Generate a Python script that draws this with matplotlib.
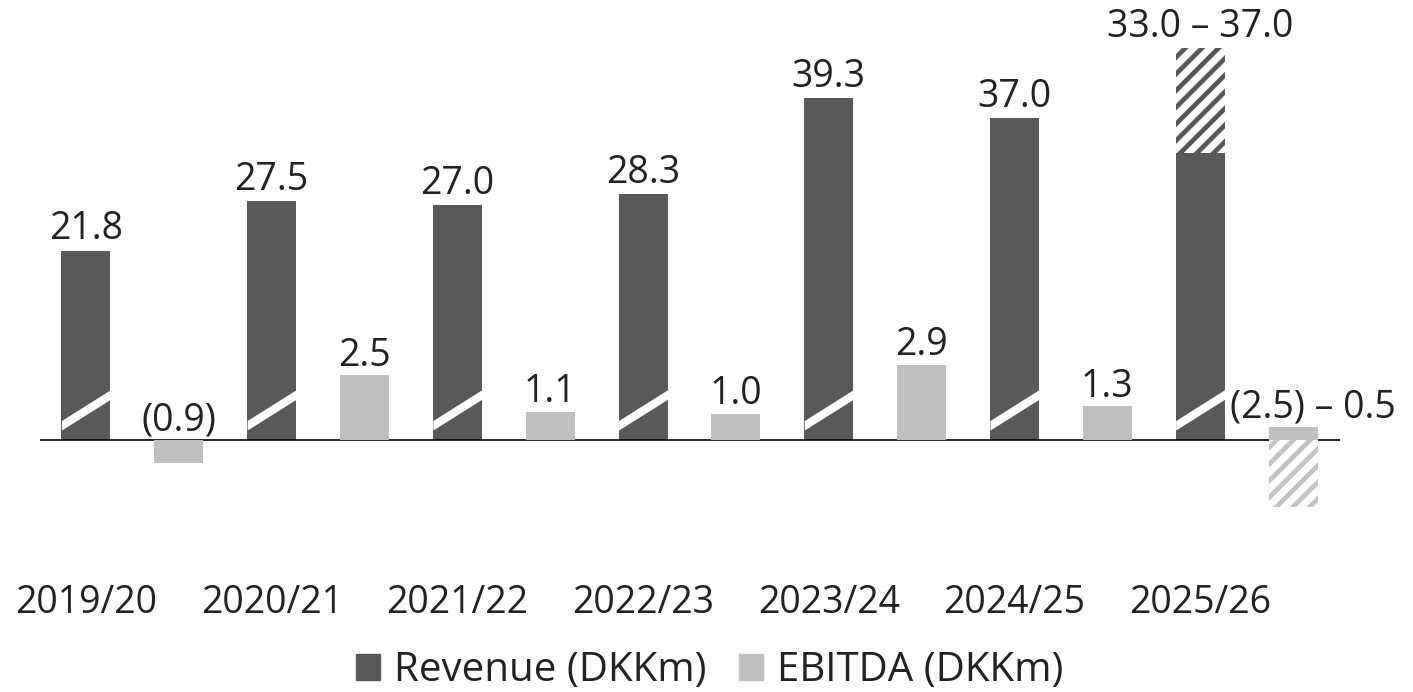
import numpy as np
import matplotlib
matplotlib.use("Agg")
import matplotlib.pyplot as plt
from matplotlib.patches import Patch

plt.rcParams['font.family'] = ['Open Sans', 'DejaVu Sans']
plt.rcParams['hatch.linewidth'] = 3.4

# ---- data ----
categories = ["2019/20", "2020/21", "2021/22", "2022/23", "2023/24", "2024/25", "2025/26"]
revenue = [21.8, 27.5, 27.0, 28.3, 39.3, 37.0, 33.0]
revenue_range_top = 45.1          # top of hatched outlook segment (as drawn)
ebitda = [-0.9, 2.5, 1.1, 1.0, 2.9, 1.3, 0.5]
ebitda_range_low = -2.6           # bottom of hatched outlook segment (as drawn)
revenue_labels = ["21.8", "27.5", "27.0", "28.3", "39.3", "37.0", "33.0 – 37.0"]
ebitda_labels = ["(0.9)", "2.5", "1.1", "1.0", "2.9", "1.3", "(2.5) – 0.5"]
legend_labels = ["Revenue (DKKm)", "EBITDA (DKKm)"]

REV_COLOR = "#595959"
EBIT_COLOR = "#bfbfbf"
EBIT_HATCH = "#c4c4c4"
TEXT = "#222222"
FS = 27

W, H = 1413, 692
fig = plt.figure(figsize=(W / 100, H / 100), dpi=100)
ax = fig.add_axes([0, 152 / H, 1, 540 / H])
ax2 = ax.twinx()
for a in (ax, ax2):
    for s in a.spines.values():
        s.set_visible(False)
    a.set_yticks([])

idx = np.arange(len(categories))
rev_x = idx
ebit_x = idx + 0.5
bw = 0.264

ax.set_xlim(-0.463, 7.146)
ax.set_ylim(-11.5, 50.63)
ax2.set_ylim(-3.876, 17.05)

# revenue bars
ax.bar(rev_x, revenue, width=bw, color=REV_COLOR, linewidth=0, zorder=2)
ax.bar(rev_x[-1], revenue_range_top - revenue[-1], bottom=revenue[-1], width=bw,
       facecolor="white", edgecolor=REV_COLOR, linewidth=0, hatch="//", zorder=2)

# axis break marks
for x in rev_x:
    ax.fill_between([x - bw / 2, x + bw / 2], [1.15, 4.7], [2.25, 5.8],
                    color="white", linewidth=0, zorder=3)

# ebitda bars
ax2.bar(ebit_x[-1], ebitda_range_low, width=bw, facecolor="white",
        edgecolor=EBIT_HATCH, linewidth=0, hatch="//", zorder=1)
ax2.bar(ebit_x, ebitda, width=bw, color=EBIT_COLOR, linewidth=0, zorder=2)

# baseline
ax.hlines(0, -0.248, 6.753, color="black", linewidth=1.2, zorder=4)

# labels
for i, x in enumerate(rev_x):
    top = revenue_range_top if i == len(rev_x) - 1 else revenue[i]
    ax.annotate(revenue_labels[i], (x, top), xytext=(0, 8), textcoords="offset points",
                ha="center", va="baseline", fontsize=FS, color=TEXT)
for i, x in enumerate(ebit_x):
    y = max(ebitda[i], 0)
    dx = 14 if i == len(ebit_x) - 1 else 0
    ax2.annotate(ebitda_labels[i], (x, y), xytext=(dx, 7), textcoords="offset points",
                 ha="center", va="baseline", fontsize=FS, color=TEXT)

ax.set_xticks(rev_x)
ax.set_xticklabels(categories, fontsize=FS, color=TEXT)
ax.tick_params(axis="x", length=0, pad=32)

handles = [Patch(color=REV_COLOR, label=legend_labels[0]),
           Patch(color=EBIT_COLOR, label=legend_labels[1])]
leg = fig.legend(handles=handles, loc="center", bbox_to_anchor=(710 / W, 1 - 671 / H),
                 ncol=2, frameon=False, fontsize=29, handlelength=0.6, handleheight=0.6,
                 handletextpad=0.35, columnspacing=0.8, labelcolor=TEXT,
                 borderpad=0, borderaxespad=0)

fig.savefig("out.png", dpi=100)
